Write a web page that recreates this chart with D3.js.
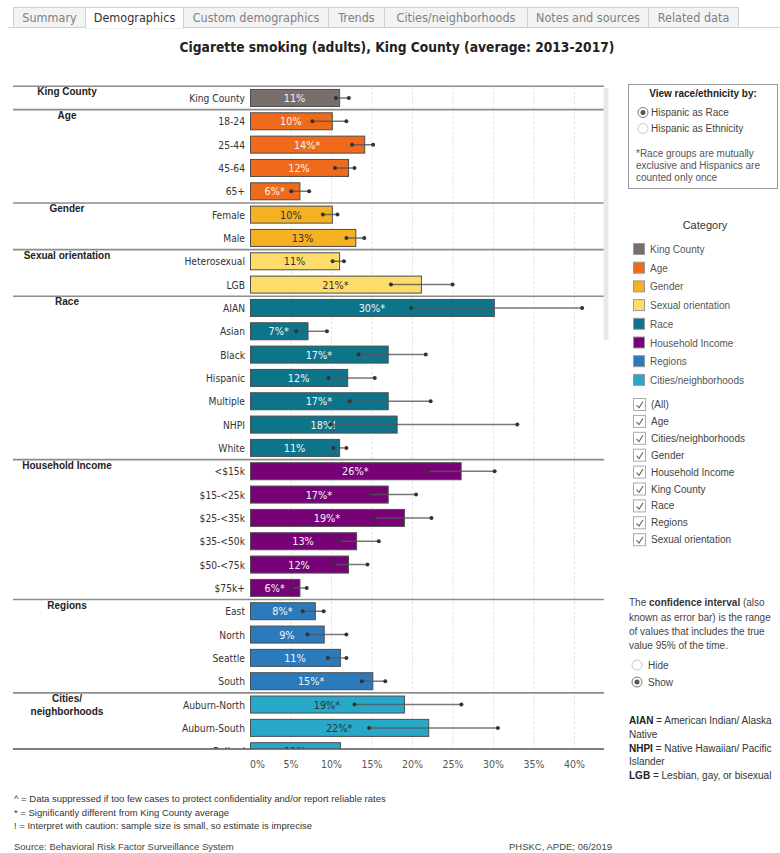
<!DOCTYPE html>
<html>
<head>
<meta charset="utf-8">
<script src="https://cdn.jsdelivr.net/npm/d3@7"></script>
<style>
  html, body { margin: 0; padding: 0; background: #fff; }
  svg { display: block; font-family: "Liberation Sans", Arial, sans-serif; }
</style>
</head>
<body>
<svg id="chart" width="780" height="853"></svg>
<script>
// ---------------- DATA ----------------
const categories = ["King County","18-24","25-44","45-64","65+","Female","Male","Heterosexual","LGB",
  "AIAN","Asian","Black","Hispanic","Multiple","NHPI","White",
  "<$15k","$15-<25k","$25-<35k","$35-<50k","$50-<75k","$75k+",
  "East","North","Seattle","South","Auburn-North","Auburn-South","Ballard"];
const categoryGroup = ["King County","Age","Age","Age","Age","Gender","Gender","Sexual orientation","Sexual orientation",
  "Race","Race","Race","Race","Race","Race","Race",
  "Household Income","Household Income","Household Income","Household Income","Household Income","Household Income",
  "Regions","Regions","Regions","Regions","Cities/neighborhoods","Cities/neighborhoods","Cities/neighborhoods"];
const values = [11.0,10.1,14.1,12.1,6.1,10.1,13.0,11.0,21.1,30.1,7.1,17.0,12.0,17.0,18.1,11.0,26.0,17.0,19.0,13.1,12.1,6.1,8.0,9.1,11.1,15.1,19.0,22.0,11.1];
const ciLow  = [10.6,7.7,12.6,10.5,5.1,9.0,11.9,10.2,17.4,19.9,5.7,13.4,9.7,12.3,9.9,10.3,21.9,14.8,15.3,11.1,10.3,5.2,6.5,7.1,9.6,13.8,12.9,14.7,7.7];
const ciHigh = [12.2,11.9,15.2,12.9,7.3,10.8,14.1,11.6,25.0,41.0,9.5,21.7,15.4,22.3,33.0,11.9,30.2,20.5,22.4,15.9,14.5,7.0,9.1,11.9,11.9,16.7,26.1,30.6,15.4];
const valueLabels = ["11%","10%","14%*","12%","6%*","10%","13%","11%","21%*","30%*","7%*","17%*","12%","17%*","18%!","11%",
  "26%*","17%*","19%*","13%","12%","6%*","8%*","9%","11%","15%*","19%*","22%*","11%"];
const groupNames = ["King County","Age","Gender","Sexual orientation","Race","Household Income","Regions","Cities/neighborhoods"];
const groupHeaderLines = [["King County"],["Age"],["Gender"],["Sexual orientation"],["Race"],["Household Income"],["Regions"],["Cities/","neighborhoods"]];
const groupColors = ["#786e6b","#ef6a1a","#f4b123","#fedc6b","#0e7489","#790178","#2b7abb","#27a8c8"];
const darkLabelGroups = ["Gender","Sexual orientation","Cities/neighborhoods"];
const xTicks = [0,5,10,15,20,25,30,35,40];
const checkItems = ["(All)","Age","Cities/neighborhoods","Gender","Household Income","King County","Race","Regions","Sexual orientation"];
const tabs = ["Summary","Demographics","Custom demographics","Trends","Cities/neighborhoods","Notes and sources","Related data"];
const tabEdges = [13,85,183,328,384,527,648,738];

// ---------------- CHART ----------------
const svg = d3.select("#chart");
const narrow = "'Liberation Sans Narrow','DejaVu Sans Condensed','Liberation Sans',Arial,sans-serif";

// Tabs
const tabG = svg.append("g");
tabG.append("line").attr("x1",8).attr("x2",780).attr("y1",27.5).attr("y2",27.5).attr("stroke","#d4d4d4");
tabs.forEach((t,i)=>{
  const x0 = tabEdges[i], x1 = tabEdges[i+1];
  const active = i===1;
  tabG.append("rect").attr("x",x0+0.5).attr("y",7.5).attr("width",x1-x0).attr("height",active?20.5:20)
    .attr("fill",active?"#ffffff":"#f3f3f3").attr("stroke","#d0d0d0");
  if(active) tabG.append("line").attr("x1",x0+1).attr("x2",x1).attr("y1",27.5).attr("y2",27.5).attr("stroke","#fff").attr("stroke-width",1.5);
  tabG.append("text").attr("x",(x0+x1)/2+0.5).attr("y",21.5).attr("text-anchor","middle")
    .attr("font-family",narrow).attr("font-size",12.5).attr("fill",active?"#333":"#808080").text(t);
});

// Title
svg.append("text").attr("x",397).attr("y",52).attr("text-anchor","middle")
  .attr("font-family",narrow).attr("font-size",13.7).attr("font-weight","bold").attr("fill","#222")
  .text("Cigarette smoking (adults), King County (average: 2013-2017)");

// Scales
const plotTop = 86.3, step = 23.33;
const x = d3.scaleLinear().domain([0,43.7]).range([250,604]);
const y = d3.scaleBand().domain(d3.range(categories.length))
  .range([plotTop, plotTop + step*categories.length]).paddingInner(0.228).paddingOuter(0.114);
const plotBottom = 749;

const defs = svg.append("defs");
defs.append("clipPath").attr("id","plotclip").append("rect")
  .attr("x",0).attr("y",plotTop).attr("width",610).attr("height",plotBottom-plotTop);

const plot = svg.append("g").attr("clip-path","url(#plotclip)");

// gridlines
plot.selectAll("line.grid").data(xTicks.filter(d=>d>0)).join("line")
  .attr("x1",d=>x(d)+0.5).attr("x2",d=>x(d)+0.5).attr("y1",plotTop).attr("y2",plotBottom)
  .attr("stroke","#e4e4e4").attr("stroke-dasharray","3,2");

// bars
const idx = d3.range(categories.length);
const colorOf = i => groupColors[groupNames.indexOf(categoryGroup[i])];
plot.selectAll("rect.bar").data(idx).join("rect")
  .attr("x",x(0)+0.5).attr("y",i=>y(i)+0.5)
  .attr("width",i=>x(values[i])-x(0)).attr("height",y.bandwidth()-1)
  .attr("fill",colorOf).attr("stroke","#4d4d4d").attr("stroke-width",1);

// value labels
plot.selectAll("text.val").data(idx).join("text")
  .attr("x",i=>(x(0)+x(values[i]))/2).attr("y",i=>y(i)+y.bandwidth()/2+4)
  .attr("text-anchor","middle").attr("font-family",narrow).attr("font-size",10.8)
  .attr("fill",i=>darkLabelGroups.includes(categoryGroup[i])?"#333":"#f4f4f4")
  .text(i=>valueLabels[i]);

// error bars
const eb = plot.selectAll("g.eb").data(idx).join("g");
eb.append("line").attr("x1",i=>x(ciLow[i])).attr("x2",i=>x(ciHigh[i]))
  .attr("y1",i=>y(i)+y.bandwidth()/2).attr("y2",i=>y(i)+y.bandwidth()/2)
  .attr("stroke","#555").attr("stroke-opacity",0.8).attr("stroke-width",1.5);
eb.append("circle").attr("cx",i=>x(ciLow[i])).attr("cy",i=>y(i)+y.bandwidth()/2).attr("r",2).attr("fill","#333");
eb.append("circle").attr("cx",i=>x(ciHigh[i])).attr("cy",i=>y(i)+y.bandwidth()/2).attr("r",2).attr("fill","#333");

// row labels
plot.selectAll("text.row").data(idx).join("text")
  .attr("x",245).attr("y",i=>y(i)+y.bandwidth()/2+4).attr("text-anchor","end")
  .attr("font-family",narrow).attr("font-size",10.2).attr("fill","#333").text(i=>categories[i]);

// group separators and headers
const groupStarts = groupNames.map(g=>categoryGroup.indexOf(g));
groupStarts.forEach((s,gi)=>{
  const yy = plotTop + s*step;
  svg.append("line").attr("x1",13).attr("x2",604).attr("y1",yy).attr("y2",yy)
    .attr("stroke","#8c8c8c").attr("stroke-width",1.6);
  groupHeaderLines[gi].forEach((ln,li)=>{
    svg.append("text").attr("x",67).attr("y",yy+9+li*13).attr("text-anchor","middle")
      .attr("font-size",10).attr("font-weight","bold").attr("fill","#222").text(ln);
  });
});
svg.append("line").attr("x1",13).attr("x2",604).attr("y1",plotBottom).attr("y2",plotBottom)
  .attr("stroke","#555").attr("stroke-width",1.3);

// scrollbar
svg.append("rect").attr("x",603.5).attr("y",88).attr("width",5).attr("height",252).attr("fill","#e8e8e8");

// x axis
const xAxis = d3.axisBottom(x).tickValues(xTicks).tickFormat(d=>d+"%").tickSize(0);
const axG = svg.append("g").attr("transform",`translate(0,${plotBottom+8.5})`).call(xAxis);
axG.select(".domain").remove();
axG.selectAll("text").attr("font-family",narrow).attr("font-size",10.5).attr("fill","#555");
axG.selectAll(".tick").filter(d=>d===0).select("text").attr("dx",7);

// ---------------- RIGHT PANEL ----------------
const rp = svg.append("g").attr("font-size",10).attr("fill","#555");
rp.append("rect").attr("x",628.5).attr("y",84.5).attr("width",149).attr("height",104)
  .attr("fill","#fff").attr("stroke","#9a9a9a");
rp.append("text").attr("x",703).attr("y",97).attr("text-anchor","middle").attr("font-weight","bold")
  .attr("fill","#222").text("View race/ethnicity by:");
function radio(cx,cy,on){
  rp.append("circle").attr("cx",cx).attr("cy",cy).attr("r",5).attr("fill","#fff").attr("stroke",on?"#777":"#c8c8c8");
  if(on) rp.append("circle").attr("cx",cx).attr("cy",cy).attr("r",2.5).attr("fill","#555");
}
radio(643,112.5,true); rp.append("text").attr("x",651).attr("y",116).attr("fill","#444").text("Hispanic as Race");
radio(643,128.5,false); rp.append("text").attr("x",651).attr("y",132).attr("fill","#444").text("Hispanic as Ethnicity");
["*Race groups are mutually","exclusive and Hispanics are","counted only once"].forEach((t,i)=>
  rp.append("text").attr("x",636).attr("y",157+i*12).attr("fill","#555").text(t));

rp.append("text").attr("x",705).attr("y",229).attr("text-anchor","middle").attr("font-size",11)
  .attr("fill","#333").text("Category");
groupNames.forEach((g,i)=>{
  const yy = 243 + i*18.7;
  rp.append("rect").attr("x",633.5).attr("y",yy+0.5).attr("width",11).attr("height",11)
    .attr("fill",groupColors[i]).attr("stroke","#999");
  rp.append("text").attr("x",650).attr("y",yy+10).attr("fill","#555").text(g);
});
checkItems.forEach((t,i)=>{
  const yy = 398 + i*16.9;
  rp.append("rect").attr("x",633.5).attr("y",yy+0.5).attr("width",12).attr("height",12)
    .attr("fill","#fff").attr("stroke","#aaa");
  rp.append("path").attr("d",`M${636.5},${yy+7} L${639},${yy+9.8} L${643},${yy+3.5}`)
    .attr("fill","none").attr("stroke","#666").attr("stroke-width",1.1);
  rp.append("text").attr("x",651).attr("y",yy+10).attr("fill","#444").text(t);
});

const ci = rp.append("text").attr("x",629).attr("y",606).attr("fill","#444");
ci.append("tspan").text("The ");
ci.append("tspan").attr("font-weight","bold").attr("fill","#333").text("confidence interval");
ci.append("tspan").text(" (also");
["known as error bar) is the range","of values that includes the true","value 95% of the time."].forEach((t,i)=>
  rp.append("text").attr("x",629).attr("y",620.5+i*14.3).attr("fill","#444").text(t));
radio(637,665,false); rp.append("text").attr("x",648).attr("y",669).attr("fill","#444").text("Hide");
radio(637,682,true); rp.append("text").attr("x",648).attr("y",686).attr("fill","#444").text("Show");

const abbr = [["AIAN"," = American Indian/ Alaska"],["","Native"],["NHPI"," = Native Hawaiian/ Pacific"],["","Islander"],["LGB"," = Lesbian, gay, or bisexual"]];
abbr.forEach((a,i)=>{
  const t = rp.append("text").attr("x",629).attr("y",724+i*13.8).attr("fill","#333");
  if(a[0]) t.append("tspan").attr("font-weight","bold").attr("fill","#222").text(a[0]);
  t.append("tspan").text(a[1]);
});

// ---------------- FOOTNOTES ----------------
const fn = svg.append("g").attr("font-size",9.5).attr("fill","#333");
["^ = Data suppressed if too few cases to protect confidentiality and/or report reliable rates",
 "* = Significantly different from King County average",
 "! = Interpret with caution: sample size is small, so estimate is imprecise"].forEach((t,i)=>
  fn.append("text").attr("x",14).attr("y",802+i*13.5).text(t));
fn.append("text").attr("x",14).attr("y",850).attr("fill","#444").text("Source: Behavioral Risk Factor Surveillance System");
fn.append("text").attr("x",509).attr("y",850).attr("fill","#444").text("PHSKC, APDE; 06/2019");
</script>
</body>
</html>
